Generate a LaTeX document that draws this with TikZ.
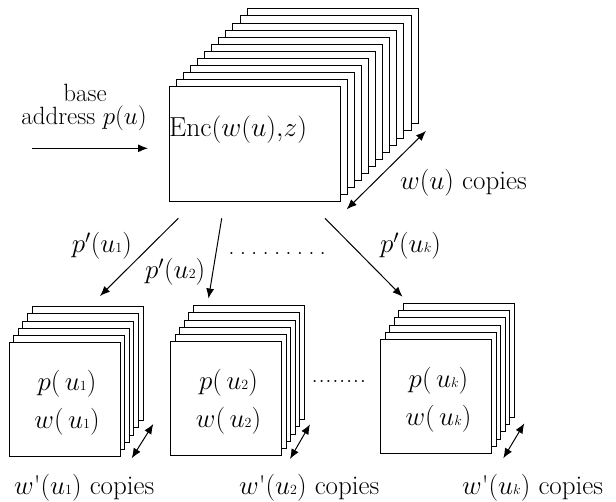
\RequirePackage{fix-cm}
\documentclass[tikz,border=0pt]{standalone}
\usetikzlibrary{arrows.meta}
\newcommand{\lsub}[1]{\mbox{\fontsize{14pt}{14pt}\selectfont$#1$}}
\begin{document}
\begin{tikzpicture}[x=1pt,y=-1pt,
  card/.style={draw, fill=white, line width=1pt, inner sep=0pt, rectangle},
  bigcard/.style={card, minimum width=171pt, minimum height=115pt},
  smallcard/.style={card, minimum width=111pt, minimum height=114pt},
  arr/.style={line width=1pt, -{Latex[length=10pt,width=8pt]}},
  darr/.style={line width=1pt, {Latex[length=10pt,width=8pt]}-{Latex[length=10pt,width=8pt]}},
  txt/.style={inner sep=0pt, font=\fontsize{27pt}{32pt}\selectfont},
  txte/.style={inner sep=0pt, font=\fontsize{25pt}{30pt}\selectfont},
  txtenc/.style={inner sep=0pt, font=\fontsize{27.5pt}{33pt}\selectfont},
  txtb/.style={inner sep=0pt, font=\fontsize{25pt}{30pt}\selectfont},
]
\useasboundingbox (0,0) rectangle (616,502);

% top stack
\foreach \i in {11,10,...,1}
  \node[bigcard] (enc\i) at (254.5+7.1*\i, 144.5-7.1*\i) {};
\node[bigcard] (enc) at (254.5,144.5) {};
\node[txtenc, anchor=base west] (enclabel) at (169,136.7) {$\mathrm{Enc}(w(u){,}z)$};

% input
\node[txtb, anchor=base] (base) at (85,101.7) {base};
\node[txtb, anchor=base] (addr) at (84,125) {address $p(u)$};
\coordinate (inS) at (32,148.3);
\coordinate (inE) at (148,148.3);
\draw[arr] (inS) -- (inE);

% w(u) copies
\coordinate (wa) at (426,131);
\coordinate (wb) at (346.7,209.3);
\draw[darr] (wa) -- (wb);
\node[txt, anchor=base west] (wcopies) at (400,190) {$w(u)$ copies};

% arrows down
\coordinate (s1) at (178.3,218.3); \coordinate (t1) at (100,296);
\coordinate (s2) at (221.7,218.3); \coordinate (t2) at (208.5,298.5);
\coordinate (sk) at (325,218.3);   \coordinate (tk) at (402.5,296.7);
\draw[arr] (s1) -- (t1);
\draw[arr] (s2) -- (t2);
\draw[arr] (sk) -- (tk);
\node[txt, anchor=base west] (pl1) at (71.7,253) {$p'(u\lsub{1})$};
\node[txt, anchor=base west] (pl2) at (145,279) {$p'(u\lsub{2})$};
\node[txt, anchor=base west] (plk) at (380,253) {$p'(u\lsub{k})$};
\node[txte, anchor=base west] (dotsA) at (228.2,254.6)
  {.\kern5.16pt.\kern5.16pt.\kern5.16pt.\kern5.16pt.\kern5.16pt.\kern5.16pt.\kern5.16pt.\kern5.16pt.};

% bottom stacks
\foreach \g/\cx/\cy/\ax/\ay/\bx/\by/\lx in
  {1/64.5/400/131.7/458.3/153.3/424/14,
   2/226/399/290/459/310/424.3/239,
   k/436/396.7/503.3/458.3/524.3/423.3/462}{
  \foreach \i in {5,4,...,1}
    \node[smallcard] (g\g c\i) at (\cx+4.6*\i, \cy-7.25*\i) {};
  \node[smallcard] (g\g) at (\cx,\cy) {};
  \node[txt, anchor=base] (gp\g) at (\cx+2.5, \cy-9.5) {$p(\,u\lsub{\g})$};
  \node[txt, anchor=base] (gw\g) at (\cx+2.5, \cy+28.5) {$w(\,u\lsub{\g})$};
  \coordinate (da\g) at (\ax,\ay);
  \coordinate (db\g) at (\bx,\by);
  \draw[darr] (da\g) -- (db\g);
  \node[txt, anchor=base west] (gl\g) at (\lx,494) {$w$\textquotesingle$(u\lsub{\g})$ copies};
}
\node[txte, anchor=base west] (dotsB) at (311.5,382.3)
  {.\kern0.63pt.\kern0.63pt.\kern0.63pt.\kern0.63pt.\kern0.63pt.\kern0.63pt.\kern0.63pt.};
\end{tikzpicture}
\end{document}
